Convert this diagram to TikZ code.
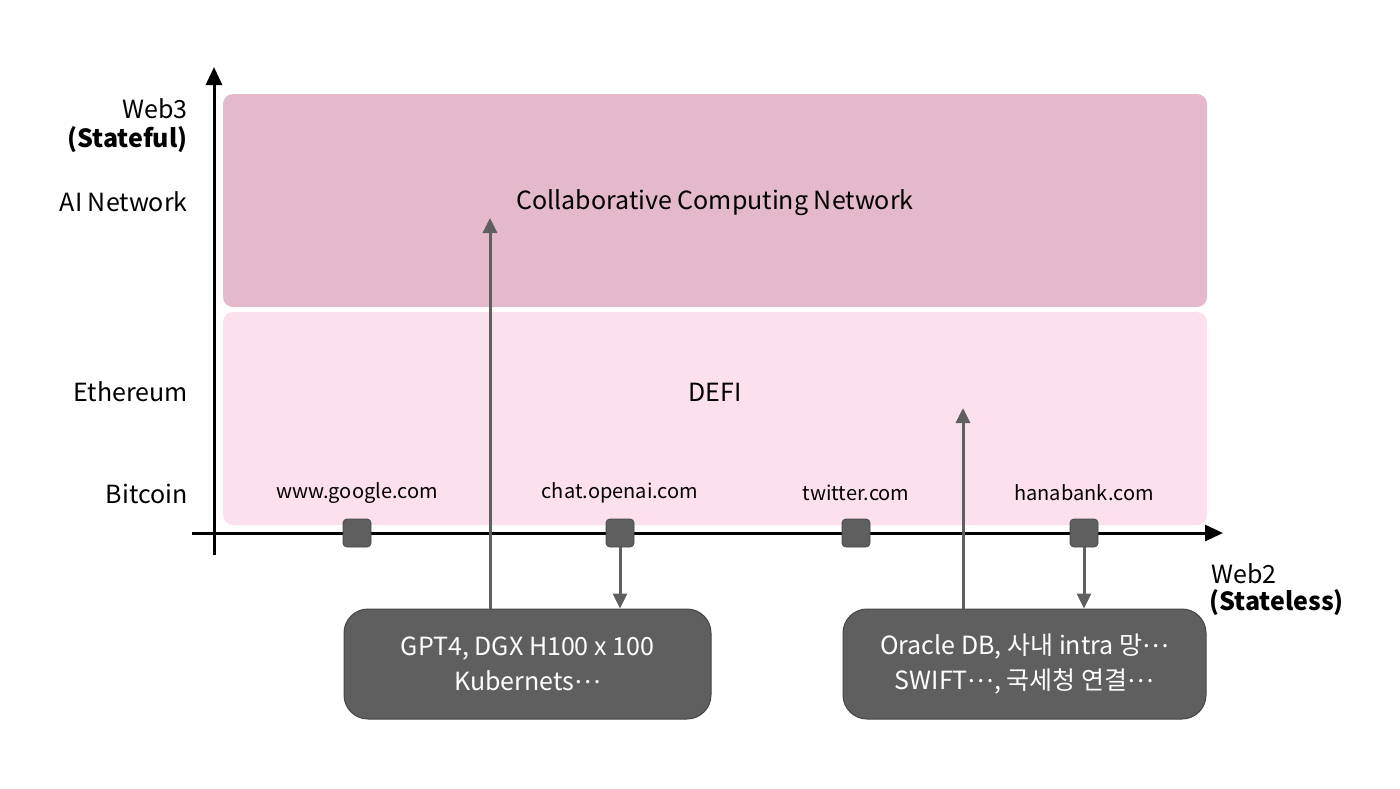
\documentclass[tikz,border=0pt]{standalone}
\usepackage{fontspec}
\setmainfont{Noto Sans CJK KR}
\usetikzlibrary{arrows.meta}
\definecolor{topfill}{RGB}{227,185,203}
\definecolor{botfill}{RGB}{253,224,238}
\definecolor{dgray}{RGB}{95,95,95}
\definecolor{dborder}{RGB}{70,70,70}
\newcommand{\middots}{\raisebox{0.28em}{…}}
\tikzset{
  lab/.style={font=\fontsize{12.5}{14}\selectfont, anchor=east, inner sep=0pt},
  url/.style={font=\fontsize{10}{12}\selectfont, inner sep=0pt},
  sq/.style={draw=dborder, line width=0.4pt, fill=dgray, rounded corners=2pt, minimum size=14pt, inner sep=0pt},
  darkbox/.style={draw=dborder, line width=0.5pt, fill=dgray, rounded corners=12pt, text=white, align=center, font=\fontsize{12.5}{17.5}\selectfont, inner sep=0pt},
  garrow/.style={draw=dgray, line width=1.5pt, -{Triangle[width=7pt,length=7.5pt]}},
  axis/.style={draw=black, line width=1.5pt, -{Triangle[width=8pt,length=9pt]}},
}
\begin{document}
\begin{tikzpicture}[x=0.5pt,y=-0.5pt]
\useasboundingbox (0,0) rectangle (1400,788);
% bands
\node[fill=topfill, rounded corners=5pt, minimum width=492pt, minimum height=106.5pt, inner sep=0pt] (web3band) at (715,200.5) {};
\node[fill=botfill, rounded corners=5pt, minimum width=492pt, minimum height=106.5pt, inner sep=0pt] (web2band) at (715,418.5) {};
% axes
\coordinate (yb) at (214,555);
\coordinate (yt) at (214,67);
\coordinate (xl) at (192,533);
\coordinate (xr) at (1223,533);
\draw[axis] (yb) -- (yt);
\draw[axis] (xl) -- (xr);
% left labels
\node[lab] (w3) at (188,109) {Web3};
\node[lab, font=\fontsize{12.5}{14}\selectfont\bfseries] (w3s) at (188,140) {(Stateful)};
\node[lab] (ain) at (188,202) {AI Network};
\node[lab] (eth) at (188,392) {Ethereum};
\node[lab] (btc) at (188,494) {Bitcoin};
% band texts
\node[font=\fontsize{12.5}{15}\selectfont, inner sep=0pt] (ccn) at (715,203) {Collaborative Computing Network};
\node[font=\fontsize{12.5}{15}\selectfont, inner sep=0pt] (defi) at (715,392) {DEFI};
% urls
\node[url] (u1) at (357,493) {www.google.com};
\node[url] (u2) at (620,493) {chat.openai.com};
\node[url] (u3) at (856,493) {twitter.com};
\node[url] (u4) at (1084,493) {hanabank.com};
% squares
\node[sq] (s1) at (357,533) {};
\node[sq] (s2) at (620,533) {};
\node[sq] (s3) at (856,533) {};
\node[sq] (s4) at (1084,533) {};
% web2 label
\node[anchor=west, inner sep=0pt, font=\fontsize{12.5}{14}\selectfont] (w2) at (1211,574) {Web2};
\node[anchor=west, inner sep=0pt, font=\fontsize{12.5}{14}\selectfont\bfseries] (w2s) at (1209,603) {(Stateless)};
% dark boxes
\node[darkbox, minimum width=183.5pt, minimum height=55pt] (b1) at (527.5,664) {GPT4, DGX H100 x 100\\Kubernets\middots};
\node[darkbox, minimum width=181.5pt, minimum height=55pt] (b2) at (1024.5,664) {Oracle DB, 사내 intra 망\middots\\SWIFT\middots, 국세청 연결\middots};
% arrows
\coordinate (a1s) at (490,609);
\coordinate (a1e) at (490,218);
\coordinate (a3s) at (963,609);
\coordinate (a3e) at (963,408);
\draw[garrow] (a1s) -- (a1e);
\draw[garrow] (a3s) -- (a3e);
\draw[garrow] (s2.south) -- (s2.south |- b1.north);
\draw[garrow] (s4.south) -- (s4.south |- b2.north);
\end{tikzpicture}
\end{document}
